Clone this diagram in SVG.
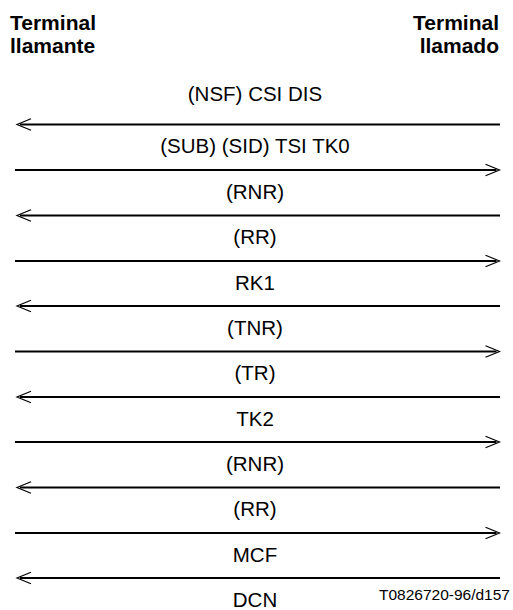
<svg xmlns="http://www.w3.org/2000/svg" width="513" height="610" viewBox="0 0 513 610">
<style>
.hdr{font-family:"Liberation Sans",Arial,sans-serif;font-size:21px;font-weight:bold;fill:#000}
.lbl{font-family:"Liberation Sans",Arial,sans-serif;font-size:20.5px;fill:#000;text-anchor:middle}
.ref{font-family:"Liberation Sans",Arial,sans-serif;font-size:15.5px;fill:#000;text-anchor:end}
.msg{stroke:#000;stroke-width:2;fill:none;marker-end:url(#chev)}
</style>
<defs>
<marker id="chev" markerUnits="userSpaceOnUse" markerWidth="18" markerHeight="16" viewBox="0 0 18 16" refX="13" refY="8" orient="auto" overflow="visible">
<path d="M2,2.2 L16,8 L2,13.8" fill="none" stroke="#000" stroke-width="1.2"/>
</marker>
</defs>
<rect width="513" height="610" fill="#fff"/>
<g id="caller">
<text class="hdr" x="10" y="30">Terminal</text>
<text class="hdr" x="10" y="53">llamante</text>
</g>
<g id="called">
<text class="hdr" x="499" y="30" text-anchor="end">Terminal</text>
<text class="hdr" x="499" y="53" text-anchor="end">llamado</text>
</g>
<g id="connectors">
<path class="msg" d="M500,124.5 H20"/>
<path class="msg" d="M15,170 H496.5"/>
<path class="msg" d="M500,215.5 H20"/>
<path class="msg" d="M15,261 H496.5"/>
<path class="msg" d="M500,306 H20"/>
<path class="msg" d="M15,351.5 H496.5"/>
<path class="msg" d="M500,397 H20"/>
<path class="msg" d="M15,442 H496.5"/>
<path class="msg" d="M500,487.5 H20"/>
<path class="msg" d="M15,533 H496.5"/>
<path class="msg" d="M500,578 H20"/>
</g>
<g id="labels">
<text class="lbl" x="255" y="101">(NSF) CSI DIS</text>
<text class="lbl" x="255" y="153">(SUB) (SID) TSI TK0</text>
<text class="lbl" x="255" y="199">(RNR)</text>
<text class="lbl" x="255" y="244">(RR)</text>
<text class="lbl" x="255" y="290">RK1</text>
<text class="lbl" x="255" y="335">(TNR)</text>
<text class="lbl" x="255" y="380">(TR)</text>
<text class="lbl" x="255" y="426">TK2</text>
<text class="lbl" x="255" y="471">(RNR)</text>
<text class="lbl" x="255" y="516">(RR)</text>
<text class="lbl" x="255" y="562">MCF</text>
<text class="lbl" x="255" y="607">DCN</text>
</g>
<text class="ref" x="510" y="600">T0826720-96/d157</text>
</svg>
